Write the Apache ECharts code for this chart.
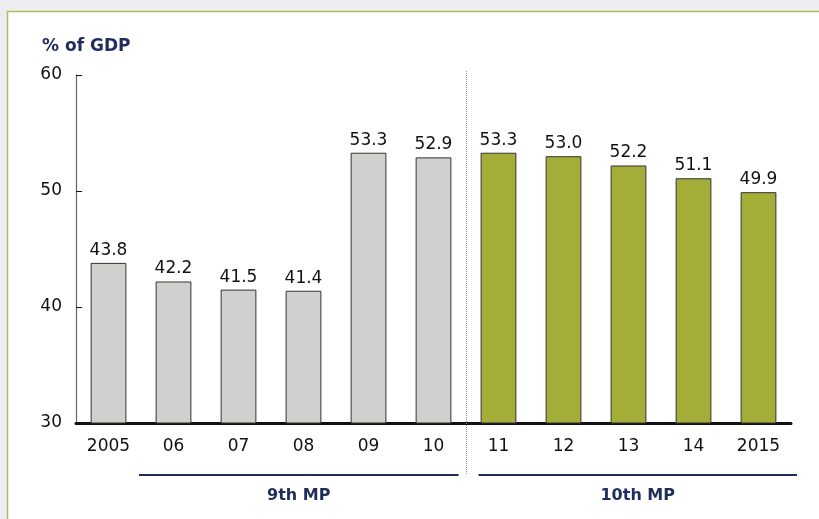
<!DOCTYPE html>
<html>
<head>
<meta charset="utf-8">
<style>
  html, body { margin: 0; padding: 0; background: #ebedf0; }
  #chart { width: 819px; height: 519px; }
</style>
<script src="https://cdn.jsdelivr.net/npm/echarts@6/dist/echarts.min.js"></script>
</head>
<body>
<div id="chart"></div>
<script>
// Debt as a share of GDP by year
const years = ['2005', '06', '07', '08', '09', '10', '11', '12', '13', '14', '2015'];
const debtShare = [43.8, 42.2, 41.5, 41.4, 53.3, 52.9, 53.3, 53.0, 52.2, 51.1, 49.9];

// Plan periods: first and last category index of each
const planNames = ['9th MP', '10th MP'];
const planStart = [1, 6];
const planEnd = [5, 10];

const yTicks = [30, 40, 50, 60];

const GREY = '#d0d0ce';
const OLIVE = '#a3ad38';
const NAVY = '#1f2d5c';
const FONT = '"DejaVu Sans", sans-serif';

const chart = echarts.init(document.getElementById('chart'));

const barData = debtShare.map((v, i) => ({
  value: v,
  itemStyle: { color: i < planStart[1] ? GREY : OLIVE }
}));

chart.setOption({
  backgroundColor: '#ebedf0',
  animation: false,
  textStyle: { fontFamily: FONT },
  title: {
    text: '% of GDP',
    left: 37,
    top: 33,
    textStyle: { fontSize: 17, fontWeight: 'bold', color: NAVY, fontFamily: FONT }
  },
  grid: { left: 76, right: 28, top: 75, bottom: 96, containLabel: false },
  xAxis: {
    type: 'category',
    data: years,
    axisLine: { lineStyle: { color: '#111', width: 3 } },
    axisTick: { show: false },
    axisLabel: { fontSize: 17, color: '#111', margin: 15, fontFamily: FONT }
  },
  yAxis: {
    type: 'value',
    min: yTicks[0],
    max: yTicks[yTicks.length - 1],
    interval: 10,
    splitLine: { show: false },
    axisLine: { show: true, lineStyle: { color: '#666', width: 1.2 } },
    axisTick: { show: true, inside: true, length: 6, lineStyle: { color: '#111' } },
    axisLabel: { fontSize: 17, color: '#111', margin: 14, fontFamily: FONT }
  },
  series: [{
    type: 'bar',
    data: barData,
    barWidth: '55%',
    itemStyle: { borderColor: '#333', borderWidth: 1 },
    label: {
      show: true,
      position: 'top',
      distance: 4,
      fontSize: 17,
      color: '#111',
      fontFamily: FONT,
      formatter: p => p.value.toFixed(1)
    }
  }]
});

// Panel, period separator and plan-period brackets placed from the axis scale
function drawDecorations() {
  const px = i => chart.convertToPixel({ xAxisIndex: 0 }, i);
  const py = v => chart.convertToPixel({ yAxisIndex: 0 }, v);
  const band = px(1) - px(0);
  const sepX = Math.round((px(planEnd[0]) + px(planStart[1])) / 2) + 0.5;
  const topY = py(yTicks[yTicks.length - 1]) - 4;
  const baseY = py(yTicks[0]);
  const lineY = baseY + 52;
  const labelY = lineY + 21;

  const elements = [{
    type: 'rect',
    z: -10,
    shape: { x: 7.5, y: 11.5, width: 900, height: 600 },
    style: { fill: '#ffffff', stroke: '#a9bf62', lineWidth: 1.5 }
  }, {
    type: 'line',
    z: 1,
    shape: { x1: sepX, y1: topY, x2: sepX, y2: lineY },
    style: { stroke: '#999', lineWidth: 1, lineDash: [1, 1] }
  }];

  const spans = [
    [px(planStart[0]) - band / 2 - 2, sepX - 8],
    [sepX + 12, px(planEnd[1]) + band / 2 + 6]
  ];
  planNames.forEach((name, k) => {
    const [x1, x2] = spans[k];
    elements.push({
      type: 'line',
      shape: { x1, y1: lineY, x2, y2: lineY },
      style: { stroke: NAVY, lineWidth: 2 }
    });
    elements.push({
      type: 'text',
      x: (x1 + x2) / 2,
      y: labelY,
      style: {
        text: name,
        fill: NAVY,
        font: 'bold 16px ' + FONT,
        align: 'center',
        verticalAlign: 'middle'
      }
    });
  });
  chart.setOption({ graphic: { elements } });
}
drawDecorations();
</script>
</body>
</html>
